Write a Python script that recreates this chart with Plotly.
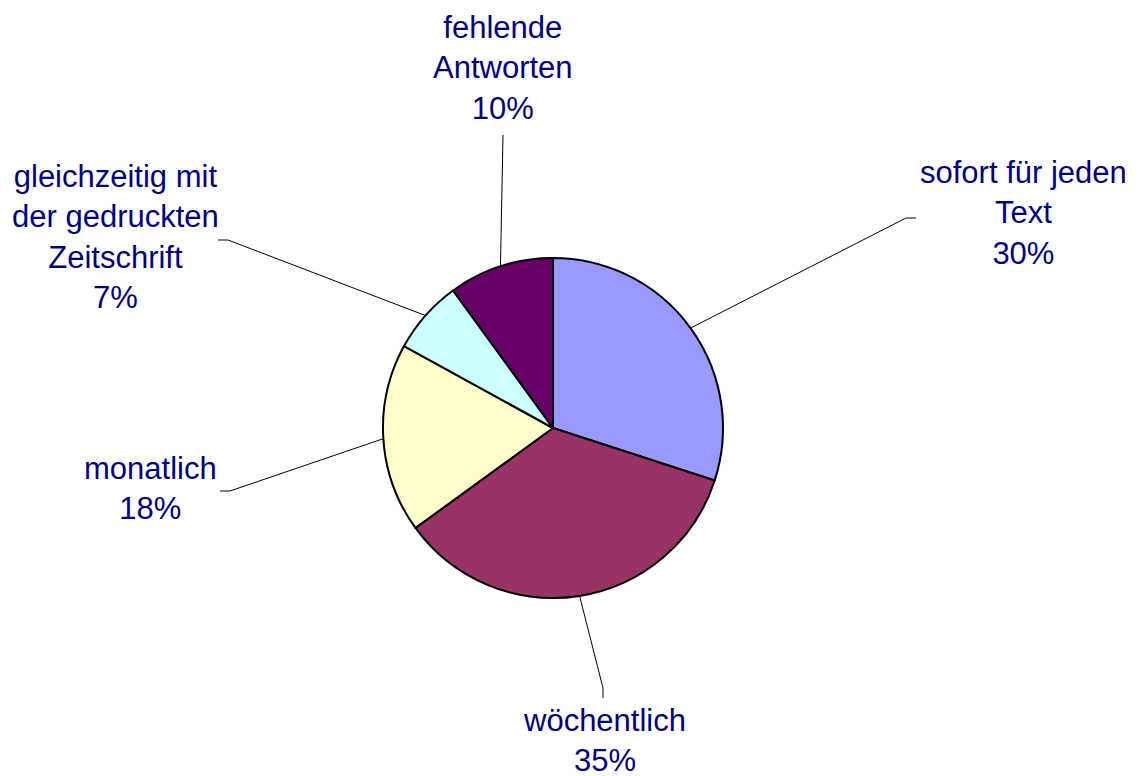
import math
import plotly.graph_objects as go

# data
categories = ['sofort für jeden<br>Text', 'wöchentlich', 'monatlich',
              'gleichzeitig mit<br>der gedruckten<br>Zeitschrift',
              'fehlende<br>Antworten']
values = [30, 35, 18, 7, 10]
colors = ['#9999FF', '#993366', '#FFFFCC', '#CCFFFF', '#660066']

W, H = 1139, 776
CX, CY, R = 553, 428, 170

# label layout (pixels): text centre, and the outer end of the leader line
label_pos = [(1023, 213), (604, 740), (150, 488), (115, 237), (503, 68)]
leader_out = [[(906, 218), (916, 218)],
              [(603, 688), (603, 698)],
              [(230, 491), (220, 491)],
              [(228, 240), (218, 240)],
              [(503, 135), (503, 135)]]


def px(x):
    return x / W


def py(y):
    return 1 - y / H


fig = go.Figure(go.Pie(
    labels=categories,
    values=values,
    sort=False,
    direction='clockwise',
    rotation=0,
    marker=dict(colors=colors, line=dict(color='black', width=2)),
    textinfo='none',
    hoverinfo='label+percent',
    domain=dict(x=[px(CX - R), px(CX + R)], y=[py(CY + R), py(CY - R)]),
))

total = sum(values)
start = 0.0
for i, (cat, v) in enumerate(zip(categories, values)):
    mid = (start + v / 2) / total * 2 * math.pi
    start += v
    # leader line from the slice edge at its mid angle
    x0 = CX + R * math.sin(mid)
    y0 = CY - R * math.cos(mid)
    pts = [(x0, y0)] + leader_out[i]
    path = 'M ' + ' L '.join(f'{px(a):.5f},{py(b):.5f}' for a, b in pts)
    fig.add_shape(type='path', path=path, xref='paper', yref='paper',
                  line=dict(color='black', width=1))
    lx, ly = label_pos[i]
    fig.add_annotation(
        x=px(lx), y=py(ly), xref='paper', yref='paper',
        text=f'{cat}<br>{round(100 * v / total)}%',
        showarrow=False, align='center',
        xanchor='center', yanchor='middle',
        font=dict(family='Arial, Liberation Sans', size=31, color='#000080'))

fig.update_layout(
    width=W, height=H,
    margin=dict(l=0, r=0, t=0, b=0),
    showlegend=False,
    paper_bgcolor='white',
    plot_bgcolor='white',
)
# drop the page's default body margin so the figure sits at the window corner
fig.write_html('out.html', config={'displayModeBar': False},
               post_script="document.body.style.margin='0';document.body.style.overflow='hidden';")
